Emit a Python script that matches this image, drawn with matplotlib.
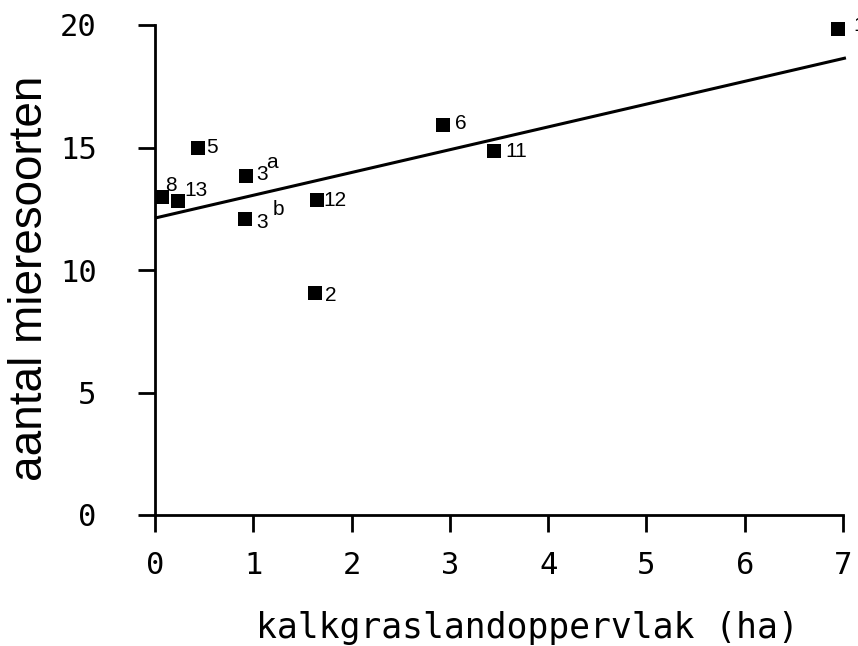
import matplotlib
matplotlib.use("Agg")
from matplotlib import pyplot as plt
import numpy as np

# site number, optional superscript, area (ha), number of ant species
site_labels = ["1", "6", "11", "5", "3", "8", "13", "3", "12", "2"]
site_sups = ["", "", "", "", "a", "", "", "b", "", ""]
area_ha = [6.95, 2.93, 3.45, 0.44, 0.93, 0.07, 0.23, 0.92, 1.65, 1.63]
n_species = [19.85, 15.9, 14.85, 15.0, 13.85, 13.0, 12.8, 12.1, 12.85, 9.05]

# regression line
fit_intercept = 12.12
fit_slope = 0.93
fit_x_range = [0.0, 7.03]

x_ticks = [0, 1, 2, 3, 4, 5, 6, 7]
y_ticks = [0, 5, 10, 15, 20]

# label offsets in pixels (dx right, dy up) relative to the marker
label_offsets = [(15, 3), (12, 2), (11, 0), (8, 0), (10, 1), (3, 11), (7, 11), (11, -4), (6, 0), (10, -2)]
sup_offsets = [None, None, None, None, (20, 13), None, None, (27, 9), None, None]

fig = plt.figure(figsize=(8.58, 6.46), dpi=100)
ax = fig.add_axes([155 / 858, 1 - 515 / 646, 688 / 858, 490 / 646])

ax.set_xlim(0, 7)
ax.set_ylim(0, 20)

xs = np.array(fit_x_range)
ax.plot(xs, fit_intercept + fit_slope * xs, color="black", lw=2.2, clip_on=False,
        solid_capstyle="butt")
ax.scatter(area_ha, n_species, marker="s", s=95, color="black", zorder=3, clip_on=False,
           linewidths=0)

px = 72 / fig.dpi
for i in range(len(site_labels)):
    dx, dy = label_offsets[i]
    ax.annotate(site_labels[i], (area_ha[i], n_species[i]), xytext=(dx * px, dy * px),
                textcoords="offset points", ha="left", va="center",
                fontsize=15, family="Liberation Sans", annotation_clip=False)
    if site_sups[i]:
        sx, sy = sup_offsets[i]
        ax.annotate(site_sups[i], (area_ha[i], n_species[i]), xytext=(sx * px, sy * px),
                    textcoords="offset points", ha="left", va="center",
                    fontsize=15, family="Liberation Sans", annotation_clip=False)

for side in ["top", "right"]:
    ax.spines[side].set_visible(False)
for side in ["left", "bottom"]:
    ax.spines[side].set_linewidth(2)

ax.set_xticks(x_ticks)
ax.set_yticks(y_ticks)
ax.tick_params(axis="both", direction="out", length=12, width=2, colors="black")
ax.tick_params(axis="x", pad=14)
ax.tick_params(axis="y", pad=30)
for lab in ax.get_xticklabels() + ax.get_yticklabels():
    lab.set_family("DejaVu Sans Mono")
    lab.set_fontsize(22)

fig.text(527 / 858, 1 - 638 / 646, "kalkgraslandoppervlak (ha)", ha="center", va="baseline",
         fontsize=25, family="DejaVu Sans Mono")
fig.text(30 / 858, 1 - 278 / 646, "aantal mieresoorten", rotation=90, ha="center",
         va="center", fontsize=33, family="Liberation Sans")

fig.savefig("out.png", dpi=100)
